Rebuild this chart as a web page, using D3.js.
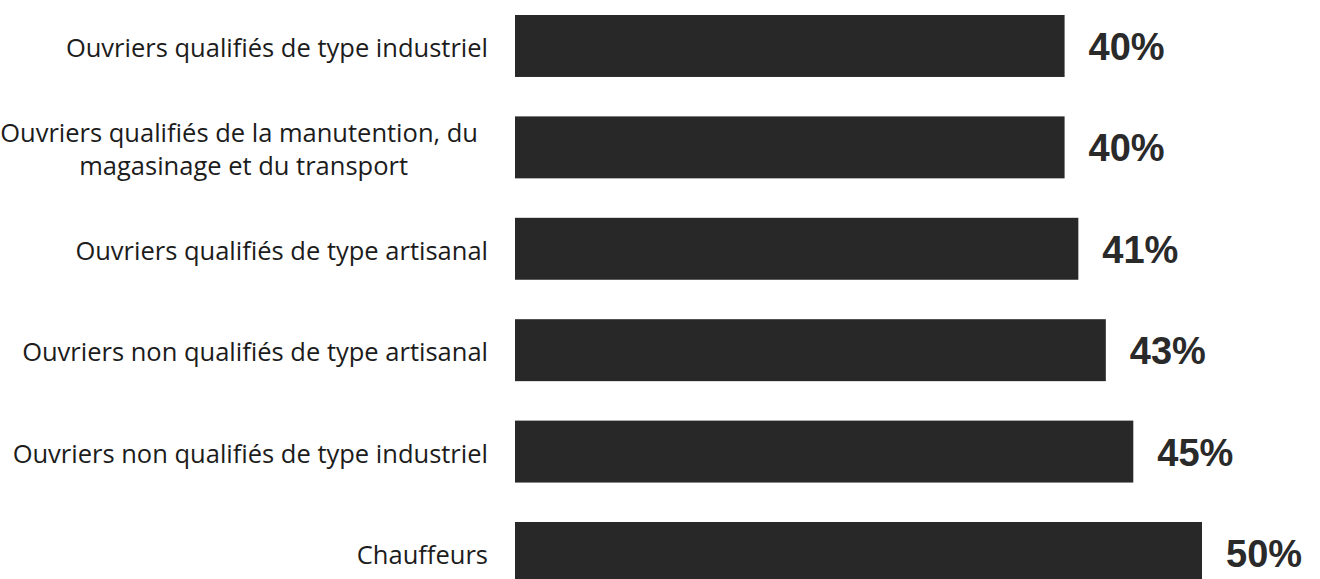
<!DOCTYPE html>
<html>
<head>
<meta charset="utf-8">
<script src="https://cdn.jsdelivr.net/npm/d3@7"></script>
<style>
	html, body { margin: 0; padding: 0; background: #ffffff; overflow: hidden; }
	svg { display: block; }
</style>
</head>
<body>
<svg id="chart" width="1320" height="579"></svg>
<script>
// categories, one entry per line of the label
const categories	= [
	['Ouvriers qualifiés de type industriel'],
	['Ouvriers qualifiés de la manutention, du', 'magasinage et du transport'],
	['Ouvriers qualifiés de type artisanal'],
	['Ouvriers non qualifiés de type artisanal'],
	['Ouvriers non qualifiés de type industriel'],
	['Chauffeurs']
];
const values		= [40, 40, 41, 43, 45, 50];
const valueLabels	= ['40%', '40%', '41%', '43%', '45%', '50%'];

const barColor		= '#282828';
const textColor		= '#1c1c1c';

var svg = d3.select('#chart');

// scales
var keys = categories.map(function(c, i){ return i; });
var step = 101.4;
var y = d3.scaleBand()
	.domain(keys)
	.range([15, 15 + step * (keys.length - 0.389)])
	.paddingInner(0.389)
	.paddingOuter(0);
var x = d3.scaleLinear()
	.domain([0, 50])
	.range([515, 1202]);

// bars
svg.append('g').selectAll('rect')
	.data(values)
	.join('rect')
	.attr('x', x(0))
	.attr('y', function(d, i){ return y(i); })
	.attr('width', function(d){ return x(d) - x(0); })
	.attr('height', y.bandwidth())
	.attr('fill', barColor);

// value labels
svg.append('g').selectAll('text')
	.data(values)
	.join('text')
	.attr('x', function(d){ return x(d) + 24; })
	.attr('y', function(d, i){ return y(i) + y.bandwidth() / 2 + 1; })
	.attr('dominant-baseline', 'central')
	.attr('font-family', 'Liberation Sans, Arial, sans-serif')
	.attr('font-weight', 'bold')
	.attr('font-size', 38)
	.attr('fill', '#2a2a2a')
	.text(function(d, i){ return valueLabels[i]; });

// category labels (right aligned, wrapped label has its own line ends)
var lineGap = 33;
var lineEnds = [478, 408];
var g = svg.append('g')
	.attr('font-family', 'Open Sans, Noto Sans, sans-serif')
	.attr('font-size', 25.5)
	.attr('fill', textColor);
categories.forEach(function(lines, i){
	var cy = y(i) + y.bandwidth() / 2 + 1;
	lines.forEach(function(line, j){
		g.append('text')
			.attr('x', lines.length > 1 ? lineEnds[j] : 488)
			.attr('y', cy + (j - (lines.length - 1) / 2) * lineGap)
			.attr('text-anchor', 'end')
			.attr('dominant-baseline', 'central')
			.text(line);
	});
});
</script>
</body>
</html>
